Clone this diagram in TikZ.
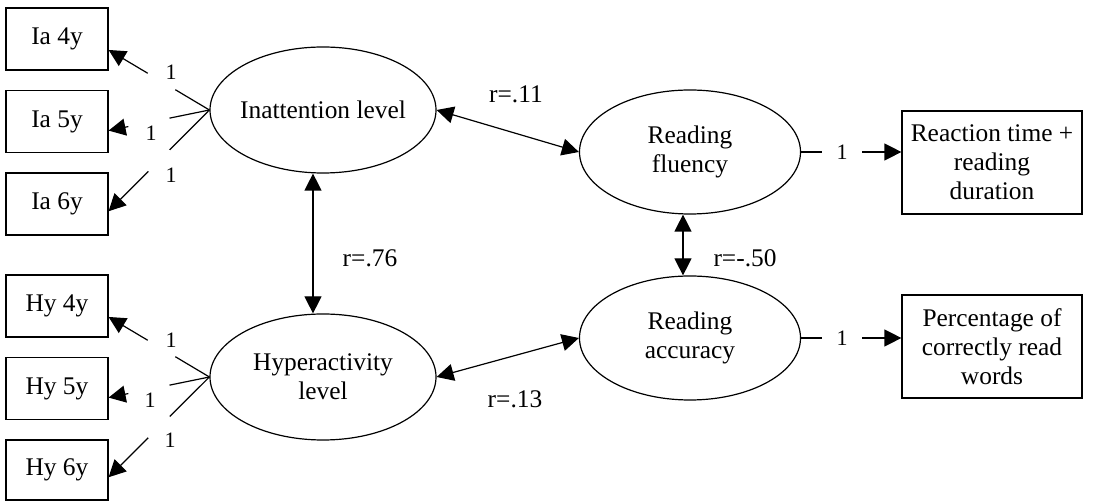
\documentclass[tikz,border=0pt]{standalone}
\usepackage{fontspec}
\setmainfont{Liberation Serif}
\usetikzlibrary{arrows.meta,shapes.geometric}

\tikzset{
  txt/.style={font=\fontsize{12.7}{14.5}\selectfont},
  obs/.style={txt, draw, line width=0.6pt, minimum width=51pt, minimum height=31pt},
  ind/.style={txt, draw, line width=0.6pt, minimum width=90pt, minimum height=51.5pt, align=center},
  lat/.style={txt, draw, ellipse, line width=0.6pt, inner xsep=-2pt, minimum width=113pt, minimum height=63pt, align=center},
  one/.style={font=\fontsize{11}{12}\selectfont, inner sep=0pt},
  corr/.style={txt, inner sep=0pt},
  gap/.style={fill=white, circle, inner sep=0pt, minimum size=#1},
  arr/.style={line width=0.6pt, -{Triangle[length=8.5pt,width=8.5pt]}},
  biarr/.style={line width=0.6pt, {Triangle[length=8.5pt,width=8.5pt]}-{Triangle[length=8.5pt,width=8.5pt]}}
}

\begin{document}
\begin{tikzpicture}[x=0.5pt, y=-0.5pt]
\useasboundingbox (0,0) rectangle (1093,501);
% indicators
\node[obs] (ia4) at (57,39) {Ia 4y};
\node[obs] (ia5) at (57,121.5) {Ia 5y};
\node[obs] (ia6) at (57,204) {Ia 6y};
\node[obs] (hy4) at (57,306) {Hy 4y};
\node[obs] (hy5) at (57,388.5) {Hy 5y};
\node[obs, minimum height=30pt] (hy6) at (57,470) {Hy 6y};
\node[ind] (rt) at (992,162.5) {Reaction time +\\reading\\duration};
\node[ind] (pc) at (992,346.5) {Percentage of\\correctly read\\words};
% latent
\node[lat] (inat) at (323,110) {Inattention level};
\node[lat] (hyp) at (323,377) {Hyperactivity\\level};
\node[lat, minimum width=110.5pt, minimum height=62pt] (flu) at (690,152) {Reading\\fluency};
\node[lat, minimum width=110.5pt, minimum height=62pt] (acc) at (690,338) {Reading\\accuracy};
% loadings
\draw[arr] (inat.west) -- node[gap=16pt, pos=.475] {} (ia4.-12);
\draw[arr] (inat.west) -- node[gap=21pt, pos=.6] {} (ia5.-10);
\draw[arr] (inat.west) -- node[gap=15pt, pos=.5] {} (ia6.-8);
\draw[arr] (hyp.west) -- node[gap=16pt, pos=.475] {} (hy4.-12);
\draw[arr] (hyp.west) -- node[gap=21pt, pos=.6] {} (hy5.-10);
\draw[arr] (hyp.west) -- node[gap=15pt, pos=.5] {} (hy6.-8);
\node[one] (l1) at (171,72) {1};
\node[one] (l2) at (151,133) {1};
\node[one] (l3) at (171,175) {1};
\node[one] (l4) at (171,340) {1};
\node[one] (l5) at (150,400) {1};
\node[one] (l6) at (170,440) {1};
\draw[arr] (flu.east) -- node[one, fill=white, minimum width=20pt, minimum height=12pt, pos=.41] (l7) {1} (flu.east -| rt.west);
\draw[arr] (acc.east) -- node[one, fill=white, minimum width=20pt, minimum height=12pt, pos=.41] (l8) {1} (acc.east -| pc.west);
% correlations
\draw[biarr] ([xshift=-5pt]inat.south) -- ([xshift=-5pt]hyp.north);
\draw[biarr] (inat.east) -- (flu.west);
\draw[biarr] (hyp.east) -- (acc.west);
\draw[biarr] ([xshift=-3.5pt]flu.south) -- ([xshift=-3.5pt]acc.north);
\node[corr] (r1) at (370,258) {r=.76};
\node[corr] (r2) at (516,94) {r=.11};
\node[corr] (r3) at (515,399.5) {r=.13};
\node[corr] (r4) at (745,258) {r=-.50};
\end{tikzpicture}
\end{document}
